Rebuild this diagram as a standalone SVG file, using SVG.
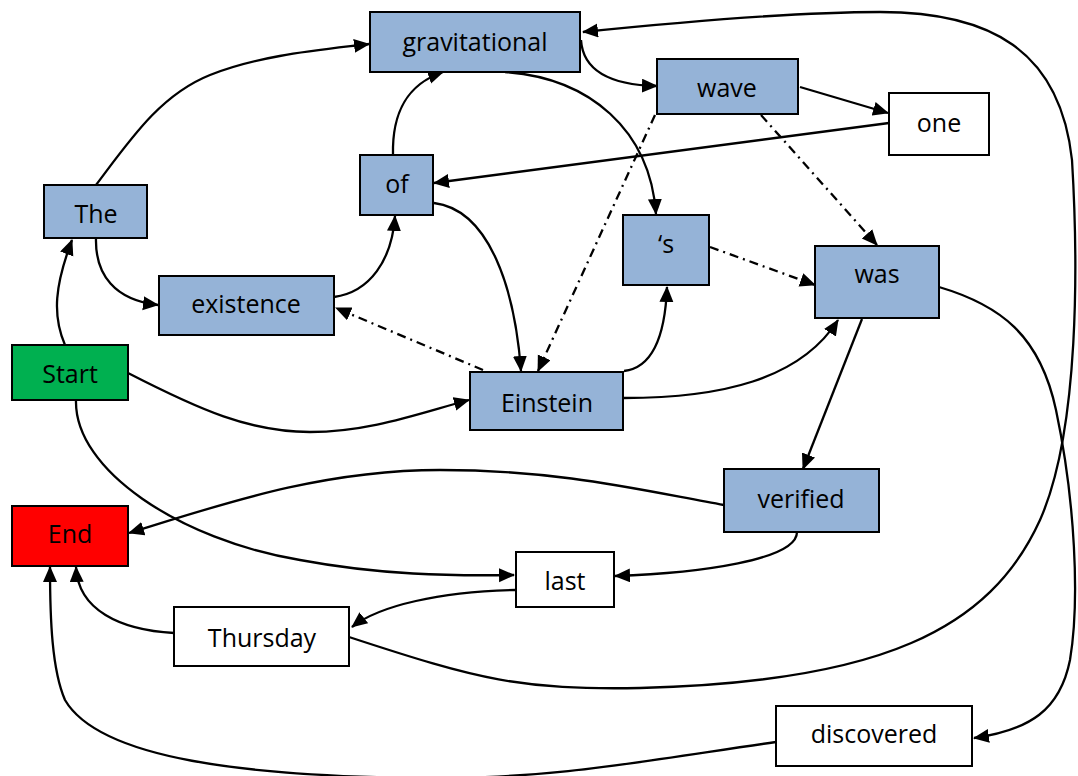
<svg xmlns="http://www.w3.org/2000/svg" width="1078" height="776" viewBox="0 0 1078 776">
  <style>
    .box { stroke: #000; stroke-width: 2; }
    .blue { fill: #95B3D7; }
    .white { fill: #FFFFFF; }
    .green { fill: #00B050; }
    .red { fill: #FF0000; }
    .lbl { font-family: "Open Sans", "Noto Sans", sans-serif; font-size: 25px; fill: #000; text-anchor: middle; }
    .edge { fill: none; stroke: #000; stroke-width: 2.3; marker-end: url(#arrow); }
    .dashdot { stroke-dasharray: 9 5 2 5; }
  </style>
  <defs>
    <marker id="arrow" markerUnits="userSpaceOnUse" markerWidth="17" markerHeight="15" refX="15" refY="7" orient="auto">
      <path d="M0,0 L16,7 L0,14 z" fill="#000"/>
    </marker>
  </defs>

  <rect width="1078" height="776" fill="#FFFFFF"/>

  <!-- connectors -->
  <g id="edges">
    <path class="edge" d="M65,345 C52,315 55,285 72,240"/>
    <path class="edge" d="M96,185 C130,140 160,95 210,75 C260,55 320,50 369,44"/>
    <path class="edge" d="M96,238 C95,275 115,300 158,305"/>
    <path class="edge" d="M334,297 C370,292 392,260 395,216"/>
    <path class="edge" d="M393,155 C392,115 405,85 443,72"/>
    <path class="edge" d="M889,123 L434,183"/>
    <path class="edge" d="M434,203 C490,210 515,290 521,371"/>
    <path class="edge" d="M581,40 C583,70 610,85 657,86"/>
    <path class="edge" d="M505,72 C590,78 650,130 656,214"/>
    <path class="edge" d="M800,87 L888,113"/>
    <path class="edge dashdot" d="M655,115 L538,371"/>
    <path class="edge dashdot" d="M761,115 L877,245"/>
    <path class="edge dashdot" d="M710,247 L815,285"/>
    <path class="edge dashdot" d="M483,370 L336,308"/>
    <path class="edge" d="M624,371 C650,368 665,340 667,287"/>
    <path class="edge" d="M624,398 C720,398 800,380 838,320"/>
    <path class="edge" d="M862,319 L803,469"/>
    <path class="edge" d="M128,373 C200,410 250,432 310,432 C370,432 420,413 469,400"/>
    <path class="edge" d="M76,400 C74,470 180,540 300,560 C380,575 450,576 514,575"/>
    <path class="edge" d="M724,505 C640,490 560,470 440,470 C320,470 220,505 129,533"/>
    <path class="edge" d="M797,532 C797,560 700,573 615,576"/>
    <path class="edge" d="M515,590 C440,592 380,605 352,627"/>
    <path class="edge" d="M174,633 C120,630 78,610 76,567"/>
    <path class="edge" d="M776,742 C650,760 550,780 420,778 C250,776 100,760 65,700 C52,670 50,620 50,567"/>
    <path class="edge" d="M349,637 C480,680 520,690 640,688 C880,682 990,630 1040,520 C1080,430 1078,260 1072,160 C1060,50 990,12 880,12 C800,12 700,20 583,32"/>
    <path class="edge" d="M939,287 C1000,305 1040,335 1056,410 C1075,500 1080,600 1070,660 C1060,710 1030,730 974,738"/>
  </g>

  <!-- nodes -->
  <g id="n-gravitational"><rect class="box blue" x="370" y="12" width="210" height="60"/><text class="lbl" x="475" y="51">gravitational</text></g>
  <g id="n-wave"><rect class="box blue" x="657" y="59" width="141" height="55"/><text class="lbl" x="727" y="97">wave</text></g>
  <g id="n-one"><rect class="box white" x="889" y="93" width="100" height="62"/><text class="lbl" x="939" y="132">one</text></g>
  <g id="n-of"><rect class="box blue" x="360" y="155" width="73" height="60"/><text class="lbl" x="397" y="193">of</text></g>
  <g id="n-the"><rect class="box blue" x="44" y="185" width="103" height="53"/><text class="lbl" x="96" y="223">The</text></g>
  <g id="n-s"><rect class="box blue" x="623" y="215" width="86" height="70"/><text class="lbl" x="666" y="253">‘s</text></g>
  <g id="n-was"><rect class="box blue" x="815" y="246" width="124" height="72"/><text class="lbl" x="877" y="283">was</text></g>
  <g id="n-existence"><rect class="box blue" x="159" y="276" width="175" height="59"/><text class="lbl" x="246" y="313">existence</text></g>
  <g id="n-start"><rect class="box green" x="12" y="345" width="116" height="55"/><text class="lbl" x="70" y="383">Start</text></g>
  <g id="n-einstein"><rect class="box blue" x="470" y="372" width="153" height="58"/><text class="lbl" x="547" y="412">Einstein</text></g>
  <g id="n-verified"><rect class="box blue" x="724" y="469" width="155" height="63"/><text class="lbl" x="801" y="508">verified</text></g>
  <g id="n-end"><rect class="box red" x="12" y="506" width="116" height="60"/><text class="lbl" x="70" y="543">End</text></g>
  <g id="n-last"><rect class="box white" x="516" y="552" width="98" height="55"/><text class="lbl" x="565" y="590">last</text></g>
  <g id="n-thursday"><rect class="box white" x="174" y="607" width="175" height="59"/><text class="lbl" x="262" y="647">Thursday</text></g>
  <g id="n-discovered"><rect class="box white" x="776" y="706" width="196" height="60"/><text class="lbl" x="874" y="743">discovered</text></g>
</svg>
